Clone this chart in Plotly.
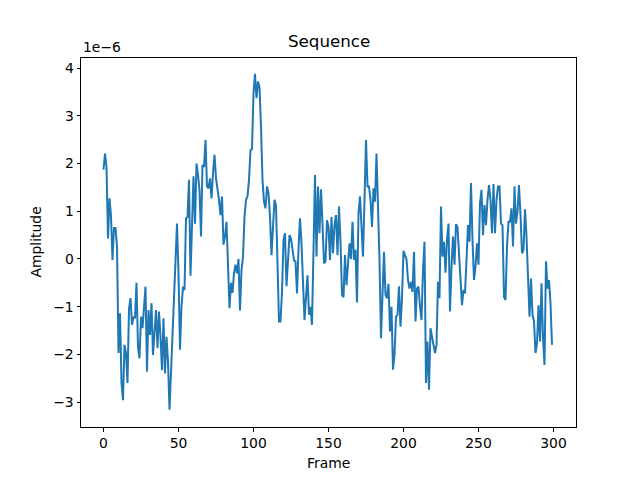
import plotly.graph_objects as go

# Amplitude values in units of 1e-6, one per frame (0..299)
amp_a = [1.87, 2.21, 1.93, 0.43, 1.27, 0.9, -0.02, 0.65, 0.65, 0.27,
         -1.97, -1.14, -2.6, -2.96, -1.8, -1.97, -2.6, -1.04, -0.82, -1.38,
         -1.21, -1.24, -0.5, -1.84, -2.08, -1.21, -1.45, -0.97, -0.58, -2.36,
         -1.07, -1.59, -0.93, -2.01, -1.52, -1.07, -1.87, -1.1, -1.63, -2.33,
         -1.24, -2.4, -1.63, -2.15, -3.16, -2.4, -1.56, -1.0, -0.37, 0.74,
         -0.3, -1.9]
amp_b = [-1.0, -0.58, -0.65, 0.85, 0.88, 1.66, -0.35, 0.95, 1.73, 0.74,
         2.0, 1.76, 1.45, 0.47, 1.97, 1.93, 2.49, 1.52, 1.48, 1.69,
         1.27, 1.8, 2.18, 1.69, 1.48, 1.24, 0.92, 1.31, 0.3, 0.47,
         0.78, -0.09, -1.03, -0.5, -0.71, -0.3, -0.12, -0.3, 0.0, -1.08,
         -0.23, 0.05, 0.88, 1.24, 1.31, 1.66, 2.28, 2.3, 3.47, 3.88,
         3.37, 3.72, 3.6]
amp_c = [2.77, 1.66, 1.2, 1.06, 1.52, 1.38, 0.88, 0.08, 0.67, 1.24,
         1.13, -0.02, -1.31, -1.31, -0.69, 0.4, 0.54, -0.57, -0.05, 0.5,
         0.43, 0.22, -0.03, -0.05, -0.72, 0.19, 0.85, 0.33, -0.51, -1.28,
         -0.8, -0.34, -1.17, -1.0, -1.38, 0.2, 1.76, 0.05, 1.52, 0.54,
         1.46, 0.74, -0.09, -0.05, 0.81, 0.67, -0.02, 0.88, 0.12, 0.71,
         0.92, 0.08, 1.1]
amp_d = [0.36, -0.75, -0.8, 0.08, -0.55, -0.13, 0.33, 0.0, 0.78, -0.02,
         0.19, -0.91, 0.95, 1.31, 0.74, 0.05, 1.24, 2.49, 1.52, 1.52,
         1.24, 0.67, 1.48, 1.2, 2.21, 1.31, -0.02, -1.66, -0.48, 0.15,
         -0.75, -0.82, -0.52, -1.52, -1.0, -2.32, -2.01, -1.21, -1.17, -0.57,
         -1.42, -0.82, 0.17, 0.08, -0.01, -0.44, -0.62, -0.48, -0.69, 0.15,
         -1.31, -0.62, -0.58]
amp_e = [-1.0, -1.28, -0.23, 0.36, -2.6, -1.73, -2.74, -1.45, -1.63, -1.84,
         -1.97, -1.8, -0.48, -0.82, 1.1, 0.05, 0.36, -0.29, 0.4, 0.74,
         -1.1, -0.16, 0.47, -0.12, 0.73, 0.67, 0.05, -0.37, -0.97, -0.65,
         -0.72, -0.02, 0.71, 0.36, 1.59, 0.4, -0.44, -0.16, 0.33, -0.12,
         1.17, 1.45, 0.5, 1.13, 0.71, 1.24, 1.55, 1.24, 0.54, 1.57,
         0.54, 1.24, 1.52]
amp_f = [1.52, 0.74, 0.71, -0.79, -0.86, 0.26, 0.78, 0.78, 1.06, 0.26,
         1.52, 0.74, 0.99, 1.55, 0.92, 0.12, 0.19, 1.04, 0.47, -0.37,
         -1.21, -0.41, -1.17, -1.31, -1.97, -1.77, -0.97, -1.73, -0.51, -1.66,
         -2.22, -0.05, -0.62, -0.44, -0.93, -1.8]

amp_micro = amp_a + amp_b + amp_c + amp_d + amp_e + amp_f
scale = 1e-6
amplitude = [v * scale for v in amp_micro]
frames = list(range(len(amplitude)))

x_ticks = [0, 50, 100, 150, 200, 250, 300]
y_ticks = [-3, -2, -1, 0, 1, 2, 3, 4]
y_tick_labels = ["\u22123", "\u22122", "\u22121", "0", "1", "2", "3", "4"]

FONT = "DejaVu Sans"
fs = 13.9

fig = go.Figure()
fig.add_trace(go.Scatter(x=frames, y=amplitude, mode="lines",
                         line=dict(color="#1f77b4", width=2),
                         showlegend=False, hoverinfo="skip"))

axis_common = dict(showgrid=False, zeroline=False, showline=True, linecolor="black",
                   linewidth=1, mirror=True, ticks="outside", ticklen=3.5,
                   tickwidth=1, tickcolor="black",
                   tickfont=dict(family=FONT, size=fs, color="black"))

fig.update_layout(
    width=640, height=480,
    margin=dict(l=73, r=72, t=50, b=61, pad=0),
    paper_bgcolor="white", plot_bgcolor="white",
    font=dict(family=FONT, size=fs, color="black"),
    xaxis=dict(range=[-15, 315], tickvals=x_ticks, **axis_common),
    yaxis=dict(range=[-3.52 * scale, 4.21 * scale],
               tickvals=[t * scale for t in y_ticks], ticktext=y_tick_labels,
               **axis_common),
    annotations=[
        dict(text="Sequence", xref="paper", x=0.5, yref="paper", y=1,
             yshift=5, xanchor="center", yanchor="bottom", showarrow=False,
             font=dict(family=FONT, size=16.7, color="black")),
        dict(text="Frame", xref="paper", x=0.5, yref="paper", y=0,
             yshift=-26, xanchor="center", yanchor="top", showarrow=False,
             font=dict(family=FONT, size=fs, color="black")),
        dict(text="Amplitude", xref="paper", x=0, xshift=-36, yref="paper", y=0.5,
             xanchor="right", yanchor="middle", textangle=-90, showarrow=False,
             font=dict(family=FONT, size=fs, color="black")),
        dict(text="1e\u22126", xref="paper", x=0, yref="paper", y=1,
             yshift=1, xanchor="left", yanchor="bottom", showarrow=False,
             font=dict(family=FONT, size=fs, color="black")),
    ],
)

fig.write_html("out.html")
